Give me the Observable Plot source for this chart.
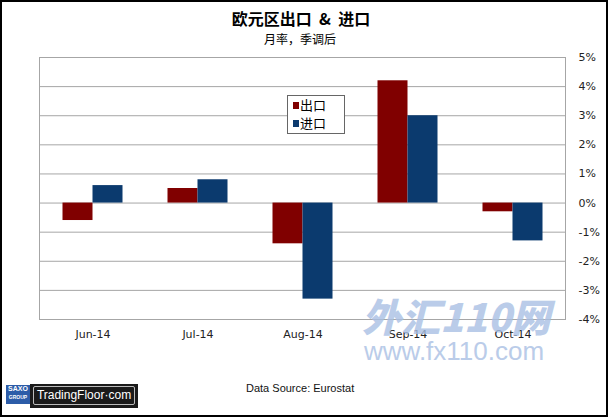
<!DOCTYPE html>
<html><head><meta charset="utf-8">
<script src="https://cdn.jsdelivr.net/npm/d3@7"></script>
<script src="https://cdn.jsdelivr.net/npm/@observablehq/plot@0.6"></script>
<style>
body{margin:0;background:#fff;}
#wrap{position:relative;width:608px;height:417px;overflow:hidden;background:#fff;font-family:"Liberation Sans","DejaVu Sans",sans-serif;}
#frame{position:absolute;left:0;top:0;width:608px;height:417px;box-sizing:border-box;border:2px solid #000;pointer-events:none;}
#title{position:absolute;left:0;width:602px;top:8px;text-align:center;white-space:pre;font-family:"Noto Sans CJK SC",sans-serif;font-weight:bold;font-size:16px;line-height:20px;color:#000;}
#sub{position:absolute;left:0;width:600px;top:31px;text-align:center;font-family:"Noto Sans CJK SC",sans-serif;font-size:12px;line-height:16px;color:#000;}
#chart{position:absolute;left:0;top:44px;}
#legend{position:absolute;left:287px;top:95px;width:56px;height:37px;border:1px solid #666;background:#fff;font-family:"Noto Sans CJK SC",sans-serif;font-size:13px;line-height:18px;}
#legend .it{display:flex;align-items:center;margin-left:5px;height:18px;}
#legend .sw{width:6px;height:7px;margin-right:1px;}
#src{position:absolute;left:246px;top:382px;font-size:11px;color:#111;}
#saxo{position:absolute;left:6px;top:385px;width:24px;height:19px;background:#2c5ca8;color:#fff;font-size:7px;font-weight:bold;text-align:center;line-height:8px;}
#tf{position:absolute;left:30px;top:384px;width:108px;height:24px;background:#1a1a1a;}
#tfin{position:absolute;left:3px;top:2px;width:100px;height:17px;border:1px solid #bbb;border-radius:2px;color:#fff;font-size:12px;line-height:17px;text-align:center;}
#wm1{position:absolute;left:362px;top:293px;font-family:"Noto Sans CJK SC",sans-serif;font-weight:900;font-style:italic;font-size:39px;line-height:44px;color:#a9c0e4;opacity:0.8;}
#wm2{position:absolute;left:364px;top:336px;font-family:"Liberation Sans",sans-serif;font-size:26px;line-height:30px;color:#a9c0e4;opacity:0.8;}
</style></head><body>
<div id="wrap">
  <div id="title">欧元区出口  &amp;  进口</div>
  <div id="sub">月率，季调后</div>
  <div id="chart"></div>
  <div id="legend"></div>
  <div id="src">Data Source: Eurostat</div>
  <div id="saxo">SAXO<br><span style="font-size:5px">GROUP</span></div>
  <div id="tf"><div id="tfin">TradingFloor·com</div></div>
  <div id="wm1">外汇110网</div>
  <div id="wm2">www.fx110.com</div>
  <div id="frame"></div>
</div>
<script>
const months = ["Jun-14","Jul-14","Aug-14","Sep-14","Oct-14"];
const exportsMoM = [-0.6, 0.5, -1.4, 4.2, -0.3];
const importsMoM = [0.6, 0.8, -3.3, 3.0, -1.3];
const seriesNames = ["出口","进口"];
const seriesColors = ["#800000","#0b3a6e"];
const yTicks = [-4,-3,-2,-1,0,1,2,3,4,5];

const exData = months.map((m,i)=>({month:m, value:exportsMoM[i]}));
const imData = months.map((m,i)=>({month:m, value:importsMoM[i]}));

const chart = Plot.plot({
  width: 608, height: 310,
  marginTop: 13, marginBottom: 35, marginLeft: 39, marginRight: 43,
  style: {fontFamily: '"DejaVu Sans",sans-serif', fontSize: "11px", color: "#222", background: "transparent"},
  x: {domain: months, padding: 0, label: null, tickSize: 0, tickPadding: 11},
  y: {domain: [-4,5], ticks: yTicks, tickFormat: d => d + "%", label: null, axis: "right", tickSize: 0, tickPadding: 13},
  marks: [
    Plot.gridY(yTicks, {stroke: "#a6a6a6", strokeOpacity: 1}),
    Plot.frame({stroke: "#a6a6a6"}),
    Plot.barY(exData, {x: "month", y: "value", fill: seriesColors[0], insetLeft: 22.5, insetRight: 52.5}),
    Plot.barY(imData, {x: "month", y: "value", fill: seriesColors[1], insetLeft: 52.5, insetRight: 22.5})
  ]
});
document.getElementById("chart").appendChild(chart);

const lg = document.getElementById("legend");
seriesNames.forEach((n,i)=>{
  const it = document.createElement("div"); it.className = "it";
  const sw = document.createElement("div"); sw.className = "sw"; sw.style.background = seriesColors[i];
  const tx = document.createElement("span"); tx.textContent = n;
  it.appendChild(sw); it.appendChild(tx); lg.appendChild(it);
});
</script>
</body></html>
